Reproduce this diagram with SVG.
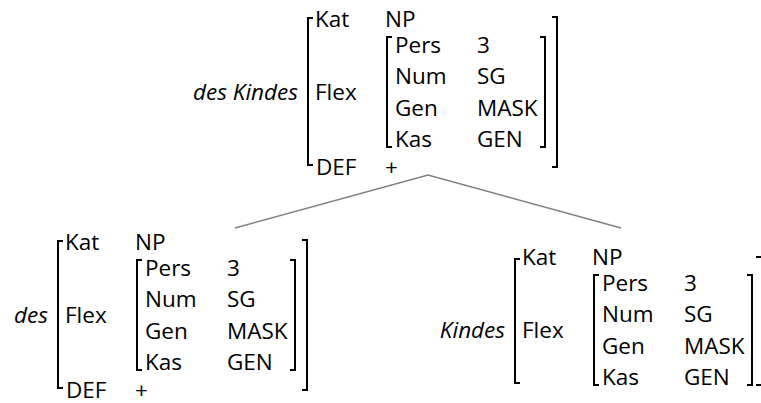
<svg xmlns="http://www.w3.org/2000/svg" width="761" height="403" viewBox="0 0 761 403">
<style>
text{font-family:"Open Sans","Liberation Sans",sans-serif;font-size:22.5px;fill:#000}
.lbl{font-style:italic;text-anchor:end}
.br{fill:none;stroke:#000;stroke-width:2}
.edge{fill:none;stroke:#808080;stroke-width:1.6}
</style>
<rect width="761" height="403" fill="#fff"/>
<g id="connectors">
<path class="edge" d="M235,228 L428,175 L621,228"/>
</g>
<g id="node-des-kindes">
<text class="lbl" x="298" y="100">des Kindes</text>
<path class="br" d="M313,18 H308 V165 H313"/>
<text x="315" y="27">Kat</text><text x="385" y="27">NP</text>
<text x="315" y="100">Flex</text>
<text x="316" y="175">DEF</text><text x="385" y="175">+</text>
<path class="br" d="M392,37 H387 V147 H392"/>
<text x="395" y="53">Pers</text><text x="477" y="53">3</text>
<text x="395" y="84">Num</text><text x="477" y="84">SG</text>
<text x="395" y="116">Gen</text><text x="477" y="116">MASK</text>
<text x="395" y="147">Kas</text><text x="477" y="147">GEN</text>
<path class="br" d="M540,37 H545 V147 H540"/>
<path class="br" d="M552,17 H557 V167 H552"/>
</g>
<g id="node-des" transform="translate(-250,223)">
<text class="lbl" x="298" y="100">des</text>
<path class="br" d="M313,18 H308 V165 H313"/>
<text x="315" y="27">Kat</text><text x="385" y="27">NP</text>
<text x="315" y="100">Flex</text>
<text x="316" y="175">DEF</text><text x="385" y="175">+</text>
<path class="br" d="M392,37 H387 V147 H392"/>
<text x="395" y="53">Pers</text><text x="477" y="53">3</text>
<text x="395" y="84">Num</text><text x="477" y="84">SG</text>
<text x="395" y="116">Gen</text><text x="477" y="116">MASK</text>
<text x="395" y="147">Kas</text><text x="477" y="147">GEN</text>
<path class="br" d="M540,37 H545 V147 H540"/>
<path class="br" d="M552,17 H557 V167 H552"/>
</g>
<g id="node-kindes" transform="translate(207,238)">
<text class="lbl" x="298" y="100">Kindes</text>
<path class="br" d="M313,21 H308 V145 H313"/>
<text x="315" y="27">Kat</text><text x="385" y="27">NP</text>
<text x="315" y="100">Flex</text>
<path class="br" d="M392,37 H387 V147 H392"/>
<text x="395" y="53">Pers</text><text x="477" y="53">3</text>
<text x="395" y="84">Num</text><text x="477" y="84">SG</text>
<text x="395" y="116">Gen</text><text x="477" y="116">MASK</text>
<text x="395" y="147">Kas</text><text x="477" y="147">GEN</text>
<path class="br" d="M540,37 H545 V147 H540"/>
<path class="br" d="M549,19 H557 V147 H549"/>
</g>
</svg>
